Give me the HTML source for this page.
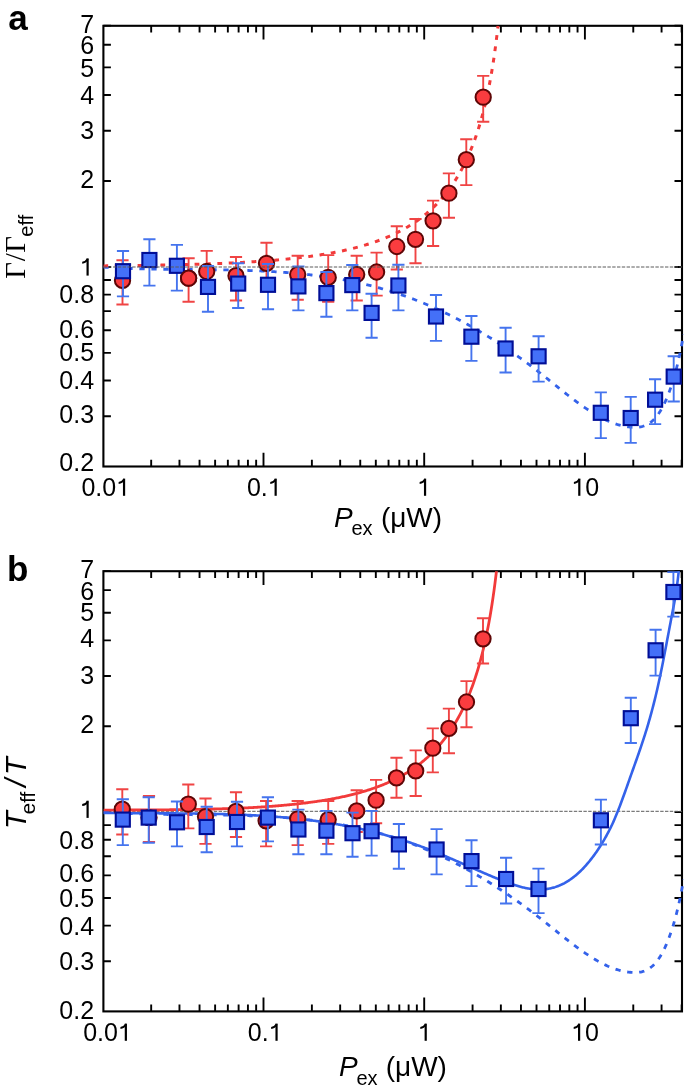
<!DOCTYPE html>
<html><head><meta charset="utf-8"><style>
html,body{margin:0;padding:0;background:#fff;}
body{width:685px;height:1091px;overflow:hidden;}
svg{display:block;will-change:transform;}
.tl{font-family:"Liberation Sans",sans-serif;font-size:25px;fill:#000;}
.pl{font-family:"Liberation Sans",sans-serif;font-size:35px;font-weight:bold;fill:#000;}
.ti{font-family:"Liberation Sans",sans-serif;font-size:28px;fill:#000;}
.ys{font-family:"Liberation Sans",sans-serif;fill:#000;}
</style></head><body>
<svg width="685" height="1091" viewBox="0 0 685 1091">
<defs><clipPath id="ca"><rect x="103.4" y="25.8" width="580.6" height="440.7"/></clipPath><clipPath id="cb"><rect x="103.4" y="571.2" width="580.6" height="440.2"/></clipPath></defs>
<rect width="685" height="1091" fill="#fff"/>
<path d="M151.18 466.5V459.7M151.18 25.8V32.6M179.47 466.5V459.7M179.47 25.8V32.6M199.55 466.5V459.7M199.55 25.8V32.6M215.12 466.5V459.7M215.12 25.8V32.6M227.85 466.5V459.7M227.85 25.8V32.6M238.61 466.5V459.7M238.61 25.8V32.6M247.93 466.5V459.7M247.93 25.8V32.6M256.15 466.5V459.7M256.15 25.8V32.6M263.5 466.5V452.7M263.5 25.8V39.6M311.88 466.5V459.7M311.88 25.8V32.6M340.17 466.5V459.7M340.17 25.8V32.6M360.25 466.5V459.7M360.25 25.8V32.6M375.82 466.5V459.7M375.82 25.8V32.6M388.55 466.5V459.7M388.55 25.8V32.6M399.31 466.5V459.7M399.31 25.8V32.6M408.63 466.5V459.7M408.63 25.8V32.6M416.85 466.5V459.7M416.85 25.8V32.6M424.2 466.5V452.7M424.2 25.8V39.6M472.58 466.5V459.7M472.58 25.8V32.6M500.87 466.5V459.7M500.87 25.8V32.6M520.95 466.5V459.7M520.95 25.8V32.6M536.52 466.5V459.7M536.52 25.8V32.6M549.25 466.5V459.7M549.25 25.8V32.6M560.01 466.5V459.7M560.01 25.8V32.6M569.33 466.5V459.7M569.33 25.8V32.6M577.55 466.5V459.7M577.55 25.8V32.6M584.9 466.5V452.7M584.9 25.8V39.6M633.28 466.5V459.7M633.28 25.8V32.6M661.57 466.5V459.7M661.57 25.8V32.6M681.65 466.5V459.7M681.65 25.8V32.6M103.4 25.67H110.9M682 25.67H674.5M103.4 44.79H110.9M682 44.79H674.5M103.4 67.39H110.9M682 67.39H674.5M103.4 95.06H110.9M682 95.06H674.5M103.4 130.73H110.9M682 130.73H674.5M103.4 181.01H110.9M682 181.01H674.5M103.4 266.95H110.9M682 266.95H674.5M103.4 280.01H110.9M682 280.01H674.5M103.4 294.62H110.9M682 294.62H674.5M103.4 311.17H110.9M682 311.17H674.5M103.4 330.29H110.9M682 330.29H674.5M103.4 352.89H110.9M682 352.89H674.5M103.4 380.56H110.9M682 380.56H674.5M103.4 416.23H110.9M682 416.23H674.5" stroke="#000" stroke-width="1.9" fill="none"/>
<rect x="103.4" y="25.8" width="578.6" height="440.7" stroke="#000" stroke-width="2.1" fill="none"/>
<g clip-path="url(#ca)">
<path d="M103.4 267.11 L104.56 267.19 L105.73 267.26 L106.89 267.33 L108.05 267.4 L109.21 267.47 L110.38 267.54 L111.54 267.6 L112.7 267.66 L113.86 267.73 L115.03 267.79 L116.19 267.85 L117.35 267.9 L118.52 267.96 L119.68 268.01 L120.84 268.07 L122 268.12 L123.17 268.17 L124.33 268.22 L125.49 268.26 L126.65 268.31 L127.82 268.35 L128.98 268.4 L130.14 268.44 L131.31 268.48 L132.47 268.52 L133.63 268.56 L134.79 268.6 L135.96 268.63 L137.12 268.67 L138.28 268.7 L139.44 268.74 L140.61 268.77 L141.77 268.8 L142.93 268.83 L144.1 268.86 L145.26 268.89 L146.42 268.92 L147.58 268.94 L148.75 268.97 L149.91 268.99 L151.07 269.02 L152.23 269.04 L153.4 269.06 L154.56 269.08 L155.72 269.1 L156.89 269.12 L158.05 269.14 L159.21 269.16 L160.37 269.18 L161.54 269.2 L162.7 269.22 L163.86 269.23 L165.02 269.25 L166.19 269.26 L167.35 269.28 L168.51 269.29 L169.68 269.31 L170.84 269.32 L172 269.33 L173.16 269.35 L174.33 269.36 L175.49 269.37 L176.65 269.38 L177.81 269.39 L178.98 269.4 L180.14 269.42 L181.3 269.43 L182.47 269.44 L183.63 269.45 L184.79 269.46 L185.95 269.47 L187.12 269.48 L188.28 269.49 L189.44 269.5 L190.6 269.51 L191.77 269.52 L192.93 269.53 L194.09 269.54 L195.26 269.55 L196.42 269.56 L197.58 269.57 L198.74 269.58 L199.91 269.59 L201.07 269.6 L202.23 269.61 L203.39 269.62 L204.56 269.64 L205.72 269.65 L206.88 269.66 L208.05 269.67 L209.21 269.69 L210.37 269.7 L211.53 269.71 L212.7 269.73 L213.86 269.74 L215.02 269.76 L216.18 269.77 L217.35 269.79 L218.51 269.81 L219.67 269.82 L220.84 269.84 L222 269.86 L223.16 269.88 L224.32 269.9 L225.49 269.92 L226.65 269.94 L227.81 269.96 L228.97 269.98 L230.14 270.01 L231.3 270.03 L232.46 270.06 L233.63 270.08 L234.79 270.11 L235.95 270.14 L237.11 270.16 L238.28 270.19 L239.44 270.22 L240.6 270.26 L241.76 270.29 L242.93 270.32 L244.09 270.36 L245.25 270.39 L246.42 270.43 L247.58 270.47 L248.74 270.51 L249.9 270.55 L251.07 270.59 L252.23 270.63 L253.39 270.67 L254.55 270.72 L255.72 270.77 L256.88 270.81 L258.04 270.86 L259.21 270.91 L260.37 270.97 L261.53 271.02 L262.69 271.07 L263.86 271.13 L265.02 271.19 L266.18 271.25 L267.34 271.31 L268.51 271.37 L269.67 271.43 L270.83 271.5 L272 271.57 L273.16 271.64 L274.32 271.71 L275.48 271.78 L276.65 271.85 L277.81 271.93 L278.97 272.01 L280.13 272.09 L281.3 272.17 L282.46 272.25 L283.62 272.33 L284.79 272.42 L285.95 272.51 L287.11 272.6 L288.27 272.69 L289.44 272.79 L290.6 272.88 L291.76 272.98 L292.92 273.08 L294.09 273.19 L295.25 273.29 L296.41 273.4 L297.58 273.51 L298.74 273.62 L299.9 273.73 L301.06 273.85 L302.23 273.96 L303.39 274.08 L304.55 274.21 L305.71 274.33 L306.88 274.46 L308.04 274.59 L309.2 274.72 L310.37 274.85 L311.53 274.99 L312.69 275.13 L313.85 275.27 L315.02 275.41 L316.18 275.56 L317.34 275.71 L318.5 275.86 L319.67 276.02 L320.83 276.17 L321.99 276.33 L323.16 276.5 L324.32 276.66 L325.48 276.83 L326.64 277 L327.81 277.17 L328.97 277.35 L330.13 277.53 L331.29 277.71 L332.46 277.89 L333.62 278.08 L334.78 278.27 L335.95 278.46 L337.11 278.66 L338.27 278.86 L339.43 279.06 L340.6 279.26 L341.76 279.47 L342.92 279.68 L344.08 279.9 L345.25 280.12 L346.41 280.34 L347.57 280.56 L348.74 280.79 L349.9 281.02 L351.06 281.25 L352.22 281.49 L353.39 281.73 L354.55 281.97 L355.71 282.22 L356.87 282.47 L358.04 282.72 L359.2 282.97 L360.36 283.23 L361.53 283.5 L362.69 283.77 L363.85 284.04 L365.01 284.31 L366.18 284.59 L367.34 284.87 L368.5 285.15 L369.66 285.44 L370.83 285.73 L371.99 286.03 L373.15 286.33 L374.32 286.63 L375.48 286.94 L376.64 287.25 L377.8 287.56 L378.97 287.88 L380.13 288.2 L381.29 288.53 L382.45 288.86 L383.62 289.19 L384.78 289.53 L385.94 289.87 L387.11 290.21 L388.27 290.56 L389.43 290.91 L390.59 291.27 L391.76 291.63 L392.92 292 L394.08 292.37 L395.24 292.74 L396.41 293.12 L397.57 293.5 L398.73 293.89 L399.89 294.28 L401.06 294.67 L402.22 295.07 L403.38 295.47 L404.55 295.88 L405.71 296.29 L406.87 296.71 L408.03 297.13 L409.2 297.55 L410.36 297.98 L411.52 298.42 L412.68 298.85 L413.85 299.3 L415.01 299.74 L416.17 300.19 L417.34 300.65 L418.5 301.11 L419.66 301.57 L420.82 302.04 L421.99 302.51 L423.15 302.99 L424.31 303.47 L425.47 303.96 L426.64 304.45 L427.8 304.94 L428.96 305.44 L430.13 305.94 L431.29 306.45 L432.45 306.96 L433.61 307.48 L434.78 308 L435.94 308.52 L437.1 309.05 L438.26 309.58 L439.43 310.12 L440.59 310.66 L441.75 311.21 L442.92 311.76 L444.08 312.31 L445.24 312.87 L446.4 313.44 L447.57 314.01 L448.73 314.58 L449.89 315.15 L451.05 315.73 L452.22 316.32 L453.38 316.91 L454.54 317.5 L455.71 318.1 L456.87 318.7 L458.03 319.31 L459.19 319.92 L460.36 320.54 L461.52 321.16 L462.68 321.78 L463.84 322.41 L465.01 323.04 L466.17 323.68 L467.33 324.32 L468.5 324.97 L469.66 325.62 L470.82 326.27 L471.98 326.93 L473.15 327.59 L474.31 328.26 L475.47 328.93 L476.63 329.61 L477.8 330.29 L478.96 330.97 L480.12 331.66 L481.29 332.35 L482.45 333.05 L483.61 333.75 L484.77 334.46 L485.94 335.17 L487.1 335.88 L488.26 336.6 L489.42 337.33 L490.59 338.05 L491.75 338.78 L492.91 339.52 L494.08 340.26 L495.24 341.01 L496.4 341.76 L497.56 342.51 L498.73 343.27 L499.89 344.03 L501.05 344.79 L502.21 345.57 L503.38 346.34 L504.54 347.12 L505.7 347.9 L506.87 348.69 L508.03 349.48 L509.19 350.28 L510.35 351.08 L511.52 351.88 L512.68 352.69 L513.84 353.51 L515 354.33 L516.17 355.15 L517.33 355.97 L518.49 356.8 L519.66 357.64 L520.82 358.48 L521.98 359.32 L523.14 360.17 L524.31 361.02 L525.47 361.88 L526.63 362.74 L527.79 363.6 L528.96 364.47 L530.12 365.35 L531.28 366.23 L532.45 367.11 L533.61 367.99 L534.77 368.88 L535.93 369.78 L537.1 370.68 L538.26 371.58 L539.42 372.49 L540.58 373.4 L541.75 374.32 L542.91 375.24 L544.07 376.16 L545.24 377.09 L546.4 378.02 L547.56 378.95 L548.72 379.88 L549.89 380.81 L551.05 381.75 L552.21 382.69 L553.37 383.62 L554.54 384.56 L555.7 385.49 L556.86 386.43 L558.03 387.36 L559.19 388.29 L560.35 389.22 L561.51 390.15 L562.68 391.08 L563.84 392 L565 392.92 L566.16 393.83 L567.33 394.74 L568.49 395.65 L569.65 396.55 L570.82 397.44 L571.98 398.33 L573.14 399.22 L574.3 400.09 L575.47 400.96 L576.63 401.83 L577.79 402.68 L578.95 403.53 L580.12 404.37 L581.28 405.2 L582.44 406.02 L583.61 406.83 L584.77 407.63 L585.93 408.42 L587.09 409.2 L588.26 409.97 L589.42 410.72 L590.58 411.47 L591.74 412.2 L592.91 412.92 L594.07 413.63 L595.23 414.33 L596.4 415.01 L597.56 415.67 L598.72 416.33 L599.88 416.96 L601.05 417.58 L602.21 418.19 L603.37 418.78 L604.53 419.36 L605.7 419.91 L606.86 420.45 L608.02 420.98 L609.19 421.48 L610.35 421.97 L611.51 422.43 L612.67 422.88 L613.84 423.31 L615 423.72 L616.16 424.11 L617.32 424.48 L618.49 424.83 L619.65 425.15 L620.81 425.46 L621.98 425.74 L623.14 426 L624.3 426.24 L625.46 426.45 L626.63 426.64 L627.79 426.81 L628.95 426.95 L630.11 427.07 L631.28 427.16 L632.44 427.23 L633.6 427.27 L634.77 427.28 L635.93 427.27 L637.09 427.22 L638.25 427.13 L639.42 426.99 L640.58 426.81 L641.74 426.57 L642.9 426.27 L644.07 425.9 L645.23 425.46 L646.39 424.95 L647.56 424.36 L648.72 423.67 L649.88 422.9 L651.04 422.03 L652.21 421.07 L653.37 419.99 L654.53 418.8 L655.69 417.5 L656.86 416.07 L658.02 414.52 L659.18 412.83 L660.35 411.01 L661.51 409.04 L662.67 406.93 L663.83 404.66 L665 402.24 L666.16 399.65 L667.32 396.9 L668.48 393.97 L669.65 390.86 L670.81 387.57 L671.97 384.09 L673.14 380.41 L674.3 376.5 L675.46 372.35 L676.62 367.91 L677.79 363.18 L678.95 358.12 L680.11 352.71 L681.27 346.93 L682.44 340.75 L683.6 334.15" stroke="#3462ea" stroke-width="2.8" fill="none" stroke-dasharray="5.3 6.7"/>
<path d="M103.4 265.89 L104.39 265.89 L105.39 265.88 L106.38 265.87 L107.38 265.86 L108.37 265.85 L109.36 265.84 L110.36 265.83 L111.35 265.82 L112.35 265.81 L113.34 265.8 L114.33 265.79 L115.33 265.78 L116.32 265.77 L117.32 265.76 L118.31 265.75 L119.3 265.74 L120.3 265.72 L121.29 265.71 L122.29 265.7 L123.28 265.69 L124.27 265.68 L125.27 265.67 L126.26 265.66 L127.26 265.64 L128.25 265.63 L129.24 265.62 L130.24 265.61 L131.23 265.59 L132.23 265.58 L133.22 265.57 L134.21 265.55 L135.21 265.54 L136.2 265.53 L137.2 265.51 L138.19 265.5 L139.18 265.49 L140.18 265.47 L141.17 265.46 L142.17 265.44 L143.16 265.43 L144.15 265.41 L145.15 265.4 L146.14 265.38 L147.14 265.37 L148.13 265.35 L149.12 265.33 L150.12 265.32 L151.11 265.3 L152.11 265.28 L153.1 265.27 L154.09 265.25 L155.09 265.23 L156.08 265.22 L157.08 265.2 L158.07 265.18 L159.06 265.16 L160.06 265.14 L161.05 265.12 L162.05 265.11 L163.04 265.09 L164.03 265.07 L165.03 265.05 L166.02 265.03 L167.02 265.01 L168.01 264.99 L169 264.97 L170 264.94 L170.99 264.92 L171.98 264.9 L172.98 264.88 L173.97 264.86 L174.97 264.84 L175.96 264.81 L176.95 264.79 L177.95 264.77 L178.94 264.74 L179.94 264.72 L180.93 264.69 L181.92 264.67 L182.92 264.65 L183.91 264.62 L184.91 264.59 L185.9 264.57 L186.89 264.54 L187.89 264.52 L188.88 264.49 L189.88 264.46 L190.87 264.43 L191.86 264.41 L192.86 264.38 L193.85 264.35 L194.85 264.32 L195.84 264.29 L196.83 264.26 L197.83 264.23 L198.82 264.2 L199.82 264.17 L200.81 264.14 L201.8 264.11 L202.8 264.08 L203.79 264.04 L204.79 264.01 L205.78 263.98 L206.77 263.94 L207.77 263.91 L208.76 263.87 L209.76 263.84 L210.75 263.8 L211.74 263.77 L212.74 263.73 L213.73 263.69 L214.73 263.66 L215.72 263.62 L216.71 263.58 L217.71 263.54 L218.7 263.5 L219.7 263.46 L220.69 263.42 L221.68 263.38 L222.68 263.34 L223.67 263.3 L224.67 263.25 L225.66 263.21 L226.65 263.17 L227.65 263.12 L228.64 263.08 L229.64 263.03 L230.63 262.98 L231.62 262.94 L232.62 262.89 L233.61 262.84 L234.61 262.79 L235.6 262.74 L236.59 262.69 L237.59 262.64 L238.58 262.59 L239.58 262.54 L240.57 262.49 L241.56 262.43 L242.56 262.38 L243.55 262.32 L244.55 262.27 L245.54 262.21 L246.53 262.16 L247.53 262.1 L248.52 262.04 L249.52 261.98 L250.51 261.92 L251.5 261.86 L252.5 261.8 L253.49 261.74 L254.49 261.67 L255.48 261.61 L256.47 261.54 L257.47 261.48 L258.46 261.41 L259.46 261.34 L260.45 261.27 L261.44 261.2 L262.44 261.13 L263.43 261.06 L264.43 260.99 L265.42 260.92 L266.41 260.84 L267.41 260.77 L268.4 260.69 L269.4 260.62 L270.39 260.54 L271.38 260.46 L272.38 260.38 L273.37 260.3 L274.37 260.21 L275.36 260.13 L276.35 260.04 L277.35 259.96 L278.34 259.87 L279.34 259.78 L280.33 259.69 L281.32 259.6 L282.32 259.51 L283.31 259.42 L284.31 259.32 L285.3 259.23 L286.29 259.13 L287.29 259.03 L288.28 258.93 L289.28 258.83 L290.27 258.73 L291.26 258.63 L292.26 258.52 L293.25 258.42 L294.25 258.31 L295.24 258.2 L296.23 258.09 L297.23 257.98 L298.22 257.86 L299.22 257.75 L300.21 257.63 L301.2 257.51 L302.2 257.39 L303.19 257.27 L304.18 257.14 L305.18 257.02 L306.17 256.89 L307.17 256.76 L308.16 256.63 L309.15 256.5 L310.15 256.37 L311.14 256.23 L312.14 256.09 L313.13 255.95 L314.12 255.81 L315.12 255.67 L316.11 255.52 L317.11 255.37 L318.1 255.22 L319.09 255.07 L320.09 254.92 L321.08 254.76 L322.08 254.6 L323.07 254.44 L324.06 254.28 L325.06 254.11 L326.05 253.95 L327.05 253.78 L328.04 253.6 L329.03 253.43 L330.03 253.25 L331.02 253.07 L332.02 252.89 L333.01 252.7 L334 252.52 L335 252.33 L335.99 252.13 L336.99 251.94 L337.98 251.74 L338.97 251.54 L339.97 251.33 L340.96 251.13 L341.96 250.92 L342.95 250.7 L343.94 250.49 L344.94 250.27 L345.93 250.05 L346.93 249.82 L347.92 249.59 L348.91 249.36 L349.91 249.12 L350.9 248.88 L351.9 248.64 L352.89 248.39 L353.88 248.14 L354.88 247.89 L355.87 247.63 L356.87 247.37 L357.86 247.11 L358.85 246.84 L359.85 246.56 L360.84 246.29 L361.84 246 L362.83 245.72 L363.82 245.43 L364.82 245.13 L365.81 244.84 L366.81 244.53 L367.8 244.22 L368.79 243.91 L369.79 243.59 L370.78 243.27 L371.78 242.94 L372.77 242.61 L373.76 242.28 L374.76 241.93 L375.75 241.58 L376.75 241.23 L377.74 240.87 L378.73 240.51 L379.73 240.14 L380.72 239.76 L381.72 239.38 L382.71 238.99 L383.7 238.6 L384.7 238.2 L385.69 237.79 L386.69 237.38 L387.68 236.96 L388.67 236.53 L389.67 236.1 L390.66 235.66 L391.66 235.21 L392.65 234.75 L393.64 234.29 L394.64 233.82 L395.63 233.34 L396.63 232.86 L397.62 232.36 L398.61 231.86 L399.61 231.35 L400.6 230.83 L401.6 230.3 L402.59 229.76 L403.58 229.22 L404.58 228.66 L405.57 228.1 L406.57 227.52 L407.56 226.94 L408.55 226.34 L409.55 225.73 L410.54 225.12 L411.54 224.49 L412.53 223.85 L413.52 223.2 L414.52 222.54 L415.51 221.87 L416.51 221.18 L417.5 220.48 L418.49 219.77 L419.49 219.05 L420.48 218.31 L421.48 217.56 L422.47 216.79 L423.46 216.01 L424.46 215.21 L425.45 214.4 L426.45 213.58 L427.44 212.73 L428.43 211.88 L429.43 211 L430.42 210.11 L431.42 209.2 L432.41 208.27 L433.4 207.32 L434.4 206.35 L435.39 205.36 L436.38 204.36 L437.38 203.33 L438.37 202.28 L439.37 201.2 L440.36 200.11 L441.35 198.99 L442.35 197.84 L443.34 196.67 L444.34 195.48 L445.33 194.26 L446.32 193.01 L447.32 191.73 L448.31 190.42 L449.31 189.08 L450.3 187.71 L451.29 186.31 L452.29 184.87 L453.28 183.4 L454.28 181.9 L455.27 180.35 L456.26 178.77 L457.26 177.14 L458.25 175.47 L459.25 173.76 L460.24 172 L461.23 170.2 L462.23 168.35 L463.22 166.44 L464.22 164.48 L465.21 162.47 L466.2 160.39 L467.2 158.26 L468.19 156.06 L469.19 153.79 L470.18 151.45 L471.17 149.04 L472.17 146.54 L473.16 143.97 L474.16 141.31 L475.15 138.56 L476.14 135.71 L477.14 132.75 L478.13 129.69 L479.13 126.51 L480.12 123.21 L481.11 119.77 L482.11 116.2 L483.1 112.47 L484.1 108.58 L485.09 104.52 L486.08 100.27 L487.08 95.81 L488.07 91.14 L489.07 86.22 L490.06 81.03 L491.05 75.56 L492.05 69.76 L493.04 63.61 L494.04 57.06 L495.03 50.07 L496.02 42.57 L497.02 34.49 L498.01 25.76" stroke="#f23a3a" stroke-width="3" fill="none" stroke-dasharray="4.8 6.6"/>
<path d="M122.5 260.3V304.5M116.4 260.3h12.2M116.4 304.5h12.2" stroke="#f04444" stroke-width="1.9" fill="none"/>
<path d="M188.6 258.3V301.8M182.5 258.3h12.2M182.5 301.8h12.2" stroke="#f04444" stroke-width="1.9" fill="none"/>
<path d="M206.7 250.9V294M200.6 250.9h12.2M200.6 294h12.2" stroke="#f04444" stroke-width="1.9" fill="none"/>
<path d="M236 257V300.5M229.9 257h12.2M229.9 300.5h12.2" stroke="#f04444" stroke-width="1.9" fill="none"/>
<path d="M266.5 242.7V285.5M260.4 242.7h12.2M260.4 285.5h12.2" stroke="#f04444" stroke-width="1.9" fill="none"/>
<path d="M297.7 255.8V299.8M291.6 255.8h12.2M291.6 299.8h12.2" stroke="#f04444" stroke-width="1.9" fill="none"/>
<path d="M328.2 255.1V301.8M322.1 255.1h12.2M322.1 301.8h12.2" stroke="#f04444" stroke-width="1.9" fill="none"/>
<path d="M356.7 255.8V300.5M350.6 255.8h12.2M350.6 300.5h12.2" stroke="#f04444" stroke-width="1.9" fill="none"/>
<path d="M376.6 252.6V295.6M370.5 252.6h12.2M370.5 295.6h12.2" stroke="#f04444" stroke-width="1.9" fill="none"/>
<path d="M396.8 226.3V269.5M390.7 226.3h12.2M390.7 269.5h12.2" stroke="#f04444" stroke-width="1.9" fill="none"/>
<path d="M415.5 219V263.3M409.4 219h12.2M409.4 263.3h12.2" stroke="#f04444" stroke-width="1.9" fill="none"/>
<path d="M433.1 200.6V246M427 200.6h12.2M427 246h12.2" stroke="#f04444" stroke-width="1.9" fill="none"/>
<path d="M448.9 173.4V217.8M442.8 173.4h12.2M442.8 217.8h12.2" stroke="#f04444" stroke-width="1.9" fill="none"/>
<path d="M466.3 139.3V185.1M460.2 139.3h12.2M460.2 185.1h12.2" stroke="#f04444" stroke-width="1.9" fill="none"/>
<path d="M483.2 75.9V121.7M477.1 75.9h12.2M477.1 121.7h12.2" stroke="#f04444" stroke-width="1.9" fill="none"/>
<circle cx="122.5" cy="280.4" r="7.65" fill="#fa3c3f" stroke="#5e0606" stroke-width="2.0"/>
<circle cx="188.6" cy="278.2" r="7.65" fill="#fa3c3f" stroke="#5e0606" stroke-width="2.0"/>
<circle cx="206.7" cy="271.5" r="7.65" fill="#fa3c3f" stroke="#5e0606" stroke-width="2.0"/>
<circle cx="236" cy="275.7" r="7.65" fill="#fa3c3f" stroke="#5e0606" stroke-width="2.0"/>
<circle cx="266.5" cy="263.3" r="7.65" fill="#fa3c3f" stroke="#5e0606" stroke-width="2.0"/>
<circle cx="297.7" cy="274.5" r="7.65" fill="#fa3c3f" stroke="#5e0606" stroke-width="2.0"/>
<circle cx="328.2" cy="277.4" r="7.65" fill="#fa3c3f" stroke="#5e0606" stroke-width="2.0"/>
<circle cx="356.7" cy="274.5" r="7.65" fill="#fa3c3f" stroke="#5e0606" stroke-width="2.0"/>
<circle cx="376.6" cy="272" r="7.65" fill="#fa3c3f" stroke="#5e0606" stroke-width="2.0"/>
<circle cx="396.8" cy="246.5" r="7.65" fill="#fa3c3f" stroke="#5e0606" stroke-width="2.0"/>
<circle cx="415.5" cy="239.3" r="7.65" fill="#fa3c3f" stroke="#5e0606" stroke-width="2.0"/>
<circle cx="433.1" cy="220.8" r="7.65" fill="#fa3c3f" stroke="#5e0606" stroke-width="2.0"/>
<circle cx="448.9" cy="193.2" r="7.65" fill="#fa3c3f" stroke="#5e0606" stroke-width="2.0"/>
<circle cx="466.3" cy="159.7" r="7.65" fill="#fa3c3f" stroke="#5e0606" stroke-width="2.0"/>
<circle cx="483.2" cy="97.2" r="7.65" fill="#fa3c3f" stroke="#5e0606" stroke-width="2.0"/>
<path d="M123 251V296.4M116.9 251h12.2M116.9 296.4h12.2" stroke="#4574ee" stroke-width="1.9" fill="none"/>
<path d="M149.4 239.2V285.6M143.3 239.2h12.2M143.3 285.6h12.2" stroke="#4574ee" stroke-width="1.9" fill="none"/>
<path d="M176.9 244.9V290.6M170.8 244.9h12.2M170.8 290.6h12.2" stroke="#4574ee" stroke-width="1.9" fill="none"/>
<path d="M208 266V311.7M201.9 266h12.2M201.9 311.7h12.2" stroke="#4574ee" stroke-width="1.9" fill="none"/>
<path d="M238.2 263.3V308M232.1 263.3h12.2M232.1 308h12.2" stroke="#4574ee" stroke-width="1.9" fill="none"/>
<path d="M268 264V309.2M261.9 264h12.2M261.9 309.2h12.2" stroke="#4574ee" stroke-width="1.9" fill="none"/>
<path d="M298.4 266.5V310.4M292.3 266.5h12.2M292.3 310.4h12.2" stroke="#4574ee" stroke-width="1.9" fill="none"/>
<path d="M326.4 272V316.7M320.3 272h12.2M320.3 316.7h12.2" stroke="#4574ee" stroke-width="1.9" fill="none"/>
<path d="M352.3 265V310.4M346.2 265h12.2M346.2 310.4h12.2" stroke="#4574ee" stroke-width="1.9" fill="none"/>
<path d="M371.6 293.8V337.8M365.5 293.8h12.2M365.5 337.8h12.2" stroke="#4574ee" stroke-width="1.9" fill="none"/>
<path d="M398.4 264.7V310.4M392.3 264.7h12.2M392.3 310.4h12.2" stroke="#4574ee" stroke-width="1.9" fill="none"/>
<path d="M436 295V340.9M429.9 295h12.2M429.9 340.9h12.2" stroke="#4574ee" stroke-width="1.9" fill="none"/>
<path d="M471.4 316V360.9M465.3 316h12.2M465.3 360.9h12.2" stroke="#4574ee" stroke-width="1.9" fill="none"/>
<path d="M505.6 327.8V372.5M499.5 327.8h12.2M499.5 372.5h12.2" stroke="#4574ee" stroke-width="1.9" fill="none"/>
<path d="M538.6 336.3V381.6M532.5 336.3h12.2M532.5 381.6h12.2" stroke="#4574ee" stroke-width="1.9" fill="none"/>
<path d="M600.8 392.4V438.1M594.7 392.4h12.2M594.7 438.1h12.2" stroke="#4574ee" stroke-width="1.9" fill="none"/>
<path d="M630.7 396.9V442.9M624.6 396.9h12.2M624.6 442.9h12.2" stroke="#4574ee" stroke-width="1.9" fill="none"/>
<path d="M655.1 379.3V424.1M649 379.3h12.2M649 424.1h12.2" stroke="#4574ee" stroke-width="1.9" fill="none"/>
<path d="M673.7 356.2V401.5M667.6 356.2h12.2M667.6 401.5h12.2" stroke="#4574ee" stroke-width="1.9" fill="none"/>
<rect x="115.95" y="264.15" width="14.1" height="14.1" fill="#4470f8" stroke="#000e96" stroke-width="2.1"/>
<rect x="142.35" y="252.95" width="14.1" height="14.1" fill="#4470f8" stroke="#000e96" stroke-width="2.1"/>
<rect x="169.85" y="258.75" width="14.1" height="14.1" fill="#4470f8" stroke="#000e96" stroke-width="2.1"/>
<rect x="200.95" y="279.85" width="14.1" height="14.1" fill="#4470f8" stroke="#000e96" stroke-width="2.1"/>
<rect x="231.15" y="276.55" width="14.1" height="14.1" fill="#4470f8" stroke="#000e96" stroke-width="2.1"/>
<rect x="260.95" y="277.75" width="14.1" height="14.1" fill="#4470f8" stroke="#000e96" stroke-width="2.1"/>
<rect x="291.35" y="279.35" width="14.1" height="14.1" fill="#4470f8" stroke="#000e96" stroke-width="2.1"/>
<rect x="319.35" y="286.05" width="14.1" height="14.1" fill="#4470f8" stroke="#000e96" stroke-width="2.1"/>
<rect x="345.25" y="278.05" width="14.1" height="14.1" fill="#4470f8" stroke="#000e96" stroke-width="2.1"/>
<rect x="364.55" y="305.85" width="14.1" height="14.1" fill="#4470f8" stroke="#000e96" stroke-width="2.1"/>
<rect x="391.35" y="278.45" width="14.1" height="14.1" fill="#4470f8" stroke="#000e96" stroke-width="2.1"/>
<rect x="428.95" y="309.45" width="14.1" height="14.1" fill="#4470f8" stroke="#000e96" stroke-width="2.1"/>
<rect x="464.35" y="329.65" width="14.1" height="14.1" fill="#4470f8" stroke="#000e96" stroke-width="2.1"/>
<rect x="498.55" y="341.45" width="14.1" height="14.1" fill="#4470f8" stroke="#000e96" stroke-width="2.1"/>
<rect x="531.55" y="349.25" width="14.1" height="14.1" fill="#4470f8" stroke="#000e96" stroke-width="2.1"/>
<rect x="593.75" y="405.75" width="14.1" height="14.1" fill="#4470f8" stroke="#000e96" stroke-width="2.1"/>
<rect x="623.65" y="410.95" width="14.1" height="14.1" fill="#4470f8" stroke="#000e96" stroke-width="2.1"/>
<rect x="648.05" y="392.65" width="14.1" height="14.1" fill="#4470f8" stroke="#000e96" stroke-width="2.1"/>
<rect x="666.65" y="369.55" width="14.1" height="14.1" fill="#4470f8" stroke="#000e96" stroke-width="2.1"/>
<circle cx="188.6" cy="278.2" r="7.65" fill="#fa3c3f" stroke="#5e0606" stroke-width="2.0"/>
<path d="M103.4 267H682" stroke="#5a5a5a" stroke-width="1.0" stroke-dasharray="3.4 1.4"/>
</g>
<text x="80.2" y="32.6" class="tl">7</text>
<text x="80.2" y="53.55" class="tl">6</text>
<text x="80.2" y="77.05" class="tl">5</text>
<text x="80.2" y="103.7" class="tl">4</text>
<text x="80.2" y="138.55" class="tl">3</text>
<text x="80.2" y="188" class="tl">2</text>
<path d="M87.6 275.6V258.4" stroke="#000" stroke-width="2.2" fill="none"/><path d="M87.8 259.1Q85.6 262.7 82.2 262.8" stroke="#000" stroke-width="2" fill="none"/>
<text x="59.35" y="302.95" class="tl">0</text><text x="73.25" y="302.95" class="tl">.</text><text x="80.2" y="302.95" class="tl">8</text>
<text x="59.35" y="337.5" class="tl">0</text><text x="73.25" y="337.5" class="tl">.</text><text x="80.2" y="337.5" class="tl">6</text>
<text x="59.35" y="360.8" class="tl">0</text><text x="73.25" y="360.8" class="tl">.</text><text x="80.2" y="360.8" class="tl">5</text>
<text x="59.35" y="389.4" class="tl">0</text><text x="73.25" y="389.4" class="tl">.</text><text x="80.2" y="389.4" class="tl">4</text>
<text x="59.35" y="423.1" class="tl">0</text><text x="73.25" y="423.1" class="tl">.</text><text x="80.2" y="423.1" class="tl">3</text>
<text x="59.35" y="471.05" class="tl">0</text><text x="73.25" y="471.05" class="tl">.</text><text x="80.2" y="471.05" class="tl">2</text>
<text x="81.4" y="495.8" class="tl">0</text><text x="95.3" y="495.8" class="tl">.</text><text x="102.25" y="495.8" class="tl">0</text><path d="M124.05 495.8V478.6" stroke="#000" stroke-width="2.2" fill="none"/><path d="M124.25 479.3Q122.05 482.9 118.65 483" stroke="#000" stroke-width="2" fill="none"/>
<text x="246.9" y="495.8" class="tl">0</text><text x="260.8" y="495.8" class="tl">.</text><path d="M275.65 495.8V478.6" stroke="#000" stroke-width="2.2" fill="none"/><path d="M275.85 479.3Q273.65 482.9 270.25 483" stroke="#000" stroke-width="2" fill="none"/>
<path d="M425.05 495.8V478.6" stroke="#000" stroke-width="2.2" fill="none"/><path d="M425.25 479.3Q423.05 482.9 419.65 483" stroke="#000" stroke-width="2" fill="none"/>
<path d="M579.3 495.8V478.6" stroke="#000" stroke-width="2.2" fill="none"/><path d="M579.5 479.3Q577.3 482.9 573.9 483" stroke="#000" stroke-width="2" fill="none"/><text x="585.3" y="495.8" class="tl">0</text>
<path d="M151.18 1011.4V1004.6M151.18 571.2V578M179.47 1011.4V1004.6M179.47 571.2V578M199.55 1011.4V1004.6M199.55 571.2V578M215.12 1011.4V1004.6M215.12 571.2V578M227.85 1011.4V1004.6M227.85 571.2V578M238.61 1011.4V1004.6M238.61 571.2V578M247.93 1011.4V1004.6M247.93 571.2V578M256.15 1011.4V1004.6M256.15 571.2V578M263.5 1011.4V997.6M263.5 571.2V585M311.88 1011.4V1004.6M311.88 571.2V578M340.17 1011.4V1004.6M340.17 571.2V578M360.25 1011.4V1004.6M360.25 571.2V578M375.82 1011.4V1004.6M375.82 571.2V578M388.55 1011.4V1004.6M388.55 571.2V578M399.31 1011.4V1004.6M399.31 571.2V578M408.63 1011.4V1004.6M408.63 571.2V578M416.85 1011.4V1004.6M416.85 571.2V578M424.2 1011.4V997.6M424.2 571.2V585M472.58 1011.4V1004.6M472.58 571.2V578M500.87 1011.4V1004.6M500.87 571.2V578M520.95 1011.4V1004.6M520.95 571.2V578M536.52 1011.4V1004.6M536.52 571.2V578M549.25 1011.4V1004.6M549.25 571.2V578M560.01 1011.4V1004.6M560.01 571.2V578M569.33 1011.4V1004.6M569.33 571.2V578M577.55 1011.4V1004.6M577.55 571.2V578M584.9 1011.4V997.6M584.9 571.2V585M633.28 1011.4V1004.6M633.28 571.2V578M661.57 1011.4V1004.6M661.57 571.2V578M681.65 1011.4V1004.6M681.65 571.2V578M103.4 571.08H110.9M682 571.08H674.5M103.4 590.17H110.9M682 590.17H674.5M103.4 612.75H110.9M682 612.75H674.5M103.4 640.39H110.9M682 640.39H674.5M103.4 676.03H110.9M682 676.03H674.5M103.4 726.25H110.9M682 726.25H674.5M103.4 812.1H110.9M682 812.1H674.5M103.4 825.15H110.9M682 825.15H674.5M103.4 839.74H110.9M682 839.74H674.5M103.4 856.28H110.9M682 856.28H674.5M103.4 875.37H110.9M682 875.37H674.5M103.4 897.95H110.9M682 897.95H674.5M103.4 925.59H110.9M682 925.59H674.5M103.4 961.23H110.9M682 961.23H674.5" stroke="#000" stroke-width="1.9" fill="none"/>
<rect x="103.4" y="571.2" width="578.6" height="440.2" stroke="#000" stroke-width="2.1" fill="none"/>
<g clip-path="url(#cb)">
<path d="M103.4 811.3H682" stroke="#5a5a5a" stroke-width="1.0" stroke-dasharray="3.4 1.4"/>
<path d="M103.4 812.31 L104.56 812.39 L105.73 812.46 L106.89 812.53 L108.05 812.6 L109.21 812.67 L110.38 812.74 L111.54 812.8 L112.7 812.86 L113.86 812.93 L115.03 812.99 L116.19 813.05 L117.35 813.1 L118.52 813.16 L119.68 813.21 L120.84 813.27 L122 813.32 L123.17 813.37 L124.33 813.42 L125.49 813.46 L126.65 813.51 L127.82 813.55 L128.98 813.6 L130.14 813.64 L131.31 813.68 L132.47 813.72 L133.63 813.76 L134.79 813.8 L135.96 813.83 L137.12 813.87 L138.28 813.9 L139.44 813.94 L140.61 813.97 L141.77 814 L142.93 814.03 L144.1 814.06 L145.26 814.09 L146.42 814.12 L147.58 814.14 L148.75 814.17 L149.91 814.19 L151.07 814.22 L152.23 814.24 L153.4 814.26 L154.56 814.28 L155.72 814.3 L156.89 814.32 L158.05 814.34 L159.21 814.36 L160.37 814.38 L161.54 814.4 L162.7 814.42 L163.86 814.43 L165.02 814.45 L166.19 814.46 L167.35 814.48 L168.51 814.49 L169.68 814.51 L170.84 814.52 L172 814.53 L173.16 814.55 L174.33 814.56 L175.49 814.57 L176.65 814.58 L177.81 814.59 L178.98 814.6 L180.14 814.62 L181.3 814.63 L182.47 814.64 L183.63 814.65 L184.79 814.66 L185.95 814.67 L187.12 814.68 L188.28 814.69 L189.44 814.7 L190.6 814.71 L191.77 814.72 L192.93 814.73 L194.09 814.74 L195.26 814.75 L196.42 814.76 L197.58 814.77 L198.74 814.78 L199.91 814.79 L201.07 814.8 L202.23 814.81 L203.39 814.82 L204.56 814.84 L205.72 814.85 L206.88 814.86 L208.05 814.87 L209.21 814.89 L210.37 814.9 L211.53 814.91 L212.7 814.93 L213.86 814.94 L215.02 814.96 L216.18 814.97 L217.35 814.99 L218.51 815.01 L219.67 815.02 L220.84 815.04 L222 815.06 L223.16 815.08 L224.32 815.1 L225.49 815.12 L226.65 815.14 L227.81 815.16 L228.97 815.18 L230.14 815.21 L231.3 815.23 L232.46 815.26 L233.63 815.28 L234.79 815.31 L235.95 815.34 L237.11 815.36 L238.28 815.39 L239.44 815.42 L240.6 815.46 L241.76 815.49 L242.93 815.52 L244.09 815.56 L245.25 815.59 L246.42 815.63 L247.58 815.67 L248.74 815.71 L249.9 815.75 L251.07 815.79 L252.23 815.83 L253.39 815.87 L254.55 815.92 L255.72 815.97 L256.88 816.01 L258.04 816.06 L259.21 816.11 L260.37 816.17 L261.53 816.22 L262.69 816.27 L263.86 816.33 L265.02 816.39 L266.18 816.45 L267.34 816.51 L268.51 816.57 L269.67 816.63 L270.83 816.7 L272 816.77 L273.16 816.84 L274.32 816.91 L275.48 816.98 L276.65 817.05 L277.81 817.13 L278.97 817.21 L280.13 817.29 L281.3 817.37 L282.46 817.45 L283.62 817.53 L284.79 817.62 L285.95 817.71 L287.11 817.8 L288.27 817.89 L289.44 817.99 L290.6 818.08 L291.76 818.18 L292.92 818.28 L294.09 818.39 L295.25 818.49 L296.41 818.6 L297.58 818.71 L298.74 818.82 L299.9 818.93 L301.06 819.05 L302.23 819.16 L303.39 819.28 L304.55 819.41 L305.71 819.53 L306.88 819.66 L308.04 819.79 L309.2 819.92 L310.37 820.05 L311.53 820.19 L312.69 820.33 L313.85 820.47 L315.02 820.61 L316.18 820.76 L317.34 820.91 L318.5 821.06 L319.67 821.22 L320.83 821.37 L321.99 821.53 L323.16 821.7 L324.32 821.86 L325.48 822.03 L326.64 822.2 L327.81 822.37 L328.97 822.55 L330.13 822.73 L331.29 822.91 L332.46 823.09 L333.62 823.28 L334.78 823.47 L335.95 823.66 L337.11 823.86 L338.27 824.06 L339.43 824.26 L340.6 824.46 L341.76 824.67 L342.92 824.88 L344.08 825.1 L345.25 825.32 L346.41 825.54 L347.57 825.76 L348.74 825.99 L349.9 826.22 L351.06 826.45 L352.22 826.69 L353.39 826.93 L354.55 827.17 L355.71 827.42 L356.87 827.67 L358.04 827.92 L359.2 828.17 L360.36 828.43 L361.53 828.7 L362.69 828.97 L363.85 829.24 L365.01 829.51 L366.18 829.79 L367.34 830.07 L368.5 830.35 L369.66 830.64 L370.83 830.93 L371.99 831.23 L373.15 831.53 L374.32 831.83 L375.48 832.14 L376.64 832.45 L377.8 832.76 L378.97 833.08 L380.13 833.4 L381.29 833.73 L382.45 834.06 L383.62 834.39 L384.78 834.73 L385.94 835.07 L387.11 835.41 L388.27 835.76 L389.43 836.11 L390.59 836.47 L391.76 836.83 L392.92 837.2 L394.08 837.57 L395.24 837.94 L396.41 838.32 L397.57 838.7 L398.73 839.09 L399.89 839.48 L401.06 839.87 L402.22 840.27 L403.38 840.67 L404.55 841.08 L405.71 841.49 L406.87 841.91 L408.03 842.33 L409.2 842.75 L410.36 843.18 L411.52 843.62 L412.68 844.05 L413.85 844.5 L415.01 844.94 L416.17 845.39 L417.34 845.85 L418.5 846.31 L419.66 846.77 L420.82 847.24 L421.99 847.71 L423.15 848.19 L424.31 848.67 L425.47 849.16 L426.64 849.65 L427.8 850.14 L428.96 850.64 L430.13 851.14 L431.29 851.65 L432.45 852.16 L433.61 852.68 L434.78 853.2 L435.94 853.72 L437.1 854.25 L438.26 854.78 L439.43 855.32 L440.59 855.86 L441.75 856.41 L442.92 856.96 L444.08 857.51 L445.24 858.07 L446.4 858.64 L447.57 859.21 L448.73 859.78 L449.89 860.35 L451.05 860.93 L452.22 861.52 L453.38 862.11 L454.54 862.7 L455.71 863.3 L456.87 863.9 L458.03 864.51 L459.19 865.12 L460.36 865.74 L461.52 866.36 L462.68 866.98 L463.84 867.61 L465.01 868.24 L466.17 868.88 L467.33 869.52 L468.5 870.17 L469.66 870.82 L470.82 871.47 L471.98 872.13 L473.15 872.79 L474.31 873.46 L475.47 874.13 L476.63 874.81 L477.8 875.49 L478.96 876.17 L480.12 876.86 L481.29 877.55 L482.45 878.25 L483.61 878.95 L484.77 879.66 L485.94 880.37 L487.1 881.08 L488.26 881.8 L489.42 882.53 L490.59 883.25 L491.75 883.98 L492.91 884.72 L494.08 885.46 L495.24 886.21 L496.4 886.96 L497.56 887.71 L498.73 888.47 L499.89 889.23 L501.05 889.99 L502.21 890.77 L503.38 891.54 L504.54 892.32 L505.7 893.1 L506.87 893.89 L508.03 894.68 L509.19 895.48 L510.35 896.28 L511.52 897.08 L512.68 897.89 L513.84 898.71 L515 899.53 L516.17 900.35 L517.33 901.17 L518.49 902 L519.66 902.84 L520.82 903.68 L521.98 904.52 L523.14 905.37 L524.31 906.22 L525.47 907.08 L526.63 907.94 L527.79 908.8 L528.96 909.67 L530.12 910.55 L531.28 911.43 L532.45 912.31 L533.61 913.19 L534.77 914.08 L535.93 914.98 L537.1 915.88 L538.26 916.78 L539.42 917.69 L540.58 918.6 L541.75 919.52 L542.91 920.44 L544.07 921.36 L545.24 922.29 L546.4 923.22 L547.56 924.15 L548.72 925.08 L549.89 926.01 L551.05 926.95 L552.21 927.89 L553.37 928.82 L554.54 929.76 L555.7 930.69 L556.86 931.63 L558.03 932.56 L559.19 933.49 L560.35 934.42 L561.51 935.35 L562.68 936.28 L563.84 937.2 L565 938.12 L566.16 939.03 L567.33 939.94 L568.49 940.85 L569.65 941.75 L570.82 942.64 L571.98 943.53 L573.14 944.42 L574.3 945.29 L575.47 946.16 L576.63 947.03 L577.79 947.88 L578.95 948.73 L580.12 949.57 L581.28 950.4 L582.44 951.22 L583.61 952.03 L584.77 952.83 L585.93 953.62 L587.09 954.4 L588.26 955.17 L589.42 955.92 L590.58 956.67 L591.74 957.4 L592.91 958.12 L594.07 958.83 L595.23 959.53 L596.4 960.21 L597.56 960.87 L598.72 961.53 L599.88 962.16 L601.05 962.78 L602.21 963.39 L603.37 963.98 L604.53 964.56 L605.7 965.11 L606.86 965.65 L608.02 966.18 L609.19 966.68 L610.35 967.17 L611.51 967.63 L612.67 968.08 L613.84 968.51 L615 968.92 L616.16 969.31 L617.32 969.68 L618.49 970.03 L619.65 970.35 L620.81 970.66 L621.98 970.94 L623.14 971.2 L624.3 971.44 L625.46 971.65 L626.63 971.84 L627.79 972.01 L628.95 972.15 L630.11 972.27 L631.28 972.36 L632.44 972.43 L633.6 972.47 L634.77 972.48 L635.93 972.47 L637.09 972.42 L638.25 972.33 L639.42 972.19 L640.58 972.01 L641.74 971.77 L642.9 971.47 L644.07 971.1 L645.23 970.66 L646.39 970.15 L647.56 969.56 L648.72 968.87 L649.88 968.1 L651.04 967.23 L652.21 966.27 L653.37 965.19 L654.53 964 L655.69 962.7 L656.86 961.27 L658.02 959.72 L659.18 958.03 L660.35 956.21 L661.51 954.24 L662.67 952.13 L663.83 949.86 L665 947.44 L666.16 944.85 L667.32 942.1 L668.48 939.17 L669.65 936.06 L670.81 932.77 L671.97 929.29 L673.14 925.61 L674.3 921.7 L675.46 917.55 L676.62 913.11 L677.79 908.38 L678.95 903.32 L680.11 897.91 L681.27 892.13 L682.44 885.95 L683.6 879.35" stroke="#3462ea" stroke-width="2.8" fill="none" stroke-dasharray="5.3 6.7"/>
<path d="M103.4 810.05 L104.39 810.05 L105.39 810.05 L106.38 810.05 L107.38 810.05 L108.37 810.05 L109.36 810.05 L110.36 810.05 L111.35 810.05 L112.35 810.05 L113.34 810.05 L114.33 810.05 L115.33 810.05 L116.32 810.05 L117.32 810.05 L118.31 810.05 L119.3 810.05 L120.3 810.04 L121.29 810.04 L122.29 810.04 L123.28 810.04 L124.27 810.04 L125.27 810.04 L126.26 810.03 L127.26 810.03 L128.25 810.03 L129.24 810.03 L130.24 810.02 L131.23 810.02 L132.23 810.02 L133.22 810.01 L134.21 810.01 L135.21 810.01 L136.2 810 L137.2 810 L138.19 810 L139.18 809.99 L140.18 809.99 L141.17 809.98 L142.17 809.98 L143.16 809.97 L144.15 809.97 L145.15 809.96 L146.14 809.96 L147.14 809.95 L148.13 809.95 L149.12 809.94 L150.12 809.94 L151.11 809.93 L152.11 809.92 L153.1 809.92 L154.09 809.91 L155.09 809.9 L156.08 809.9 L157.08 809.89 L158.07 809.88 L159.06 809.87 L160.06 809.86 L161.05 809.86 L162.05 809.85 L163.04 809.84 L164.03 809.83 L165.03 809.82 L166.02 809.81 L167.02 809.8 L168.01 809.79 L169 809.78 L170 809.77 L170.99 809.76 L171.98 809.75 L172.98 809.74 L173.97 809.73 L174.97 809.72 L175.96 809.7 L176.95 809.69 L177.95 809.68 L178.94 809.67 L179.94 809.65 L180.93 809.64 L181.92 809.63 L182.92 809.61 L183.91 809.6 L184.91 809.58 L185.9 809.57 L186.89 809.55 L187.89 809.54 L188.88 809.52 L189.88 809.5 L190.87 809.49 L191.86 809.47 L192.86 809.45 L193.85 809.44 L194.85 809.42 L195.84 809.4 L196.83 809.38 L197.83 809.36 L198.82 809.34 L199.82 809.32 L200.81 809.3 L201.8 809.28 L202.8 809.26 L203.79 809.24 L204.79 809.22 L205.78 809.2 L206.77 809.17 L207.77 809.15 L208.76 809.13 L209.76 809.1 L210.75 809.08 L211.74 809.05 L212.74 809.03 L213.73 809 L214.73 808.98 L215.72 808.95 L216.71 808.92 L217.71 808.9 L218.7 808.87 L219.7 808.84 L220.69 808.81 L221.68 808.78 L222.68 808.75 L223.67 808.72 L224.67 808.69 L225.66 808.66 L226.65 808.62 L227.65 808.59 L228.64 808.56 L229.64 808.52 L230.63 808.49 L231.62 808.45 L232.62 808.42 L233.61 808.38 L234.61 808.35 L235.6 808.31 L236.59 808.27 L237.59 808.23 L238.58 808.19 L239.58 808.15 L240.57 808.11 L241.56 808.07 L242.56 808.03 L243.55 807.98 L244.55 807.94 L245.54 807.89 L246.53 807.85 L247.53 807.8 L248.52 807.76 L249.52 807.71 L250.51 807.66 L251.5 807.61 L252.5 807.56 L253.49 807.51 L254.49 807.45 L255.48 807.39 L256.47 807.33 L257.47 807.27 L258.46 807.21 L259.46 807.14 L260.45 807.08 L261.44 807.01 L262.44 806.95 L263.43 806.88 L264.43 806.81 L265.42 806.74 L266.41 806.67 L267.41 806.6 L268.4 806.53 L269.4 806.45 L270.39 806.38 L271.38 806.3 L272.38 806.23 L273.37 806.15 L274.37 806.07 L275.36 805.99 L276.35 805.91 L277.35 805.83 L278.34 805.75 L279.34 805.66 L280.33 805.58 L281.32 805.49 L282.32 805.4 L283.31 805.31 L284.31 805.22 L285.3 805.13 L286.29 805.04 L287.29 804.94 L288.28 804.85 L289.28 804.75 L290.27 804.65 L291.26 804.55 L292.26 804.45 L293.25 804.35 L294.25 804.24 L295.24 804.14 L296.23 804.03 L297.23 803.92 L298.22 803.81 L299.22 803.7 L300.21 803.58 L301.2 803.47 L302.2 803.35 L303.19 803.23 L304.18 803.11 L305.18 802.99 L306.17 802.87 L307.17 802.74 L308.16 802.61 L309.15 802.48 L310.15 802.35 L311.14 802.22 L312.14 802.09 L313.13 801.95 L314.12 801.81 L315.12 801.67 L316.11 801.52 L317.11 801.38 L318.1 801.23 L319.09 801.08 L320.09 800.93 L321.08 800.78 L322.08 800.62 L323.07 800.46 L324.06 800.3 L325.06 800.14 L326.05 799.97 L327.05 799.8 L328.04 799.63 L329.03 799.46 L330.03 799.28 L331.02 799.1 L332.02 798.92 L333.01 798.74 L334 798.55 L335 798.36 L335.99 798.17 L336.99 797.98 L337.98 797.78 L338.97 797.58 L339.97 797.37 L340.96 797.17 L341.96 796.96 L342.95 796.74 L343.94 796.53 L344.94 796.31 L345.93 796.08 L346.93 795.86 L347.92 795.62 L348.91 795.39 L349.91 795.15 L350.9 794.91 L351.9 794.67 L352.89 794.42 L353.88 794.17 L354.88 793.91 L355.87 793.65 L356.87 793.39 L357.86 793.12 L358.85 792.85 L359.85 792.57 L360.84 792.29 L361.84 792 L362.83 791.71 L363.82 791.42 L364.82 791.12 L365.81 790.82 L366.81 790.51 L367.8 790.19 L368.79 789.88 L369.79 789.55 L370.78 789.22 L371.78 788.89 L372.77 788.55 L373.76 788.2 L374.76 787.85 L375.75 787.5 L376.75 787.14 L377.74 786.77 L378.73 786.39 L379.73 786.01 L380.72 785.63 L381.72 785.24 L382.71 784.84 L383.7 784.43 L384.7 784.02 L385.69 783.6 L386.69 783.17 L387.68 782.74 L388.67 782.3 L389.67 781.85 L390.66 781.4 L391.66 780.94 L392.65 780.46 L393.64 779.99 L394.64 779.5 L395.63 779 L396.63 778.5 L397.62 777.99 L398.61 777.46 L399.61 776.93 L400.6 776.39 L401.6 775.84 L402.59 775.29 L403.58 774.72 L404.58 774.14 L405.57 773.55 L406.57 772.95 L407.56 772.34 L408.55 771.71 L409.55 771.08 L410.54 770.44 L411.54 769.78 L412.53 769.11 L413.52 768.43 L414.52 767.74 L415.51 767.03 L416.51 766.31 L417.5 765.58 L418.49 764.83 L419.49 764.07 L420.48 763.29 L421.48 762.5 L422.47 761.7 L423.46 760.87 L424.46 760.04 L425.45 759.18 L426.45 758.31 L427.44 757.42 L428.43 756.51 L429.43 755.59 L430.42 754.64 L431.42 753.68 L432.41 752.7 L433.4 751.69 L434.4 750.67 L435.39 749.62 L436.38 748.55 L437.38 747.46 L438.37 746.35 L439.37 745.21 L440.36 744.04 L441.35 742.85 L442.35 741.64 L443.34 740.39 L444.34 739.12 L445.33 737.82 L446.32 736.49 L447.32 735.13 L448.31 733.73 L449.31 732.3 L450.3 730.84 L451.29 729.34 L452.29 727.81 L453.28 726.24 L454.28 724.63 L455.27 722.97 L456.26 721.28 L457.26 719.54 L458.25 717.75 L459.25 715.92 L460.24 714.04 L461.23 712.1 L462.23 710.11 L463.22 708.07 L464.22 705.97 L465.21 703.8 L466.2 701.58 L467.2 699.28 L468.19 696.92 L469.19 694.48 L470.18 691.96 L471.17 689.37 L472.17 686.69 L473.16 683.92 L474.16 681.05 L475.15 678.09 L476.14 675.02 L477.14 671.84 L478.13 668.54 L479.13 665.12 L480.12 661.56 L481.11 657.86 L482.11 654.01 L483.1 649.99 L484.1 645.81 L485.09 641.43 L486.08 636.85 L487.08 632.05 L488.07 627.01 L489.07 621.72 L490.06 616.14 L491.05 610.25 L492.05 604.02 L493.04 597.41 L494.04 590.38 L495.03 582.88 L496.02 574.85 L497.02 566.21" stroke="#f23a3a" stroke-width="2.8" fill="none"/>
<path d="M103.4 812.83 L104.22 812.84 L105.05 812.86 L105.87 812.87 L106.7 812.89 L107.52 812.9 L108.35 812.91 L109.17 812.93 L109.99 812.94 L110.82 812.95 L111.64 812.97 L112.47 812.98 L113.29 812.99 L114.11 813 L114.94 813.01 L115.76 813.02 L116.59 813.03 L117.41 813.04 L118.24 813.05 L119.06 813.06 L119.88 813.07 L120.71 813.08 L121.53 813.09 L122.36 813.1 L123.18 813.11 L124 813.12 L124.83 813.13 L125.65 813.13 L126.48 813.14 L127.3 813.15 L128.13 813.16 L128.95 813.16 L129.77 813.17 L130.6 813.18 L131.42 813.18 L132.25 813.19 L133.07 813.19 L133.89 813.2 L134.72 813.21 L135.54 813.21 L136.37 813.22 L137.19 813.22 L138.02 813.23 L138.84 813.23 L139.66 813.24 L140.49 813.24 L141.31 813.25 L142.14 813.25 L142.96 813.25 L143.78 813.26 L144.61 813.26 L145.43 813.27 L146.26 813.27 L147.08 813.27 L147.91 813.28 L148.73 813.28 L149.55 813.29 L150.38 813.29 L151.2 813.29 L152.03 813.3 L152.85 813.3 L153.67 813.3 L154.5 813.31 L155.32 813.31 L156.15 813.31 L156.97 813.32 L157.8 813.32 L158.62 813.32 L159.44 813.33 L160.27 813.33 L161.09 813.34 L161.92 813.34 L162.74 813.34 L163.56 813.35 L164.39 813.35 L165.21 813.35 L166.04 813.36 L166.86 813.36 L167.69 813.37 L168.51 813.37 L169.33 813.37 L170.16 813.38 L170.98 813.38 L171.81 813.39 L172.63 813.39 L173.46 813.4 L174.28 813.4 L175.1 813.4 L175.93 813.41 L176.75 813.42 L177.58 813.42 L178.4 813.43 L179.22 813.43 L180.05 813.44 L180.87 813.44 L181.7 813.45 L182.52 813.46 L183.35 813.46 L184.17 813.47 L184.99 813.47 L185.82 813.48 L186.64 813.49 L187.47 813.5 L188.29 813.5 L189.11 813.51 L189.94 813.52 L190.76 813.53 L191.59 813.54 L192.41 813.55 L193.24 813.55 L194.06 813.56 L194.88 813.57 L195.71 813.58 L196.53 813.59 L197.36 813.6 L198.18 813.61 L199 813.63 L199.83 813.64 L200.65 813.65 L201.48 813.66 L202.3 813.67 L203.13 813.68 L203.95 813.7 L204.77 813.71 L205.6 813.72 L206.42 813.74 L207.25 813.75 L208.07 813.77 L208.89 813.78 L209.72 813.8 L210.54 813.81 L211.37 813.83 L212.19 813.85 L213.02 813.86 L213.84 813.88 L214.66 813.9 L215.49 813.92 L216.31 813.93 L217.14 813.95 L217.96 813.97 L218.78 813.99 L219.61 814.01 L220.43 814.03 L221.26 814.05 L222.08 814.07 L222.91 814.1 L223.73 814.12 L224.55 814.14 L225.38 814.17 L226.2 814.19 L227.03 814.21 L227.85 814.24 L228.67 814.26 L229.5 814.29 L230.32 814.32 L231.15 814.34 L231.97 814.37 L232.8 814.4 L233.62 814.43 L234.44 814.46 L235.27 814.49 L236.09 814.52 L236.92 814.55 L237.74 814.58 L238.57 814.61 L239.39 814.64 L240.21 814.68 L241.04 814.71 L241.86 814.74 L242.69 814.78 L243.51 814.81 L244.33 814.85 L245.16 814.89 L245.98 814.92 L246.81 814.96 L247.63 815 L248.46 815.04 L249.28 815.08 L250.1 815.12 L250.93 815.16 L251.75 815.2 L252.58 815.25 L253.4 815.29 L254.22 815.33 L255.05 815.38 L255.87 815.42 L256.7 815.47 L257.52 815.52 L258.35 815.56 L259.17 815.61 L259.99 815.66 L260.82 815.71 L261.64 815.76 L262.47 815.81 L263.29 815.86 L264.11 815.91 L264.94 815.97 L265.76 816.02 L266.59 816.08 L267.41 816.13 L268.24 816.19 L269.06 816.25 L269.88 816.3 L270.71 816.36 L271.53 816.42 L272.36 816.48 L273.18 816.54 L274 816.61 L274.83 816.67 L275.65 816.73 L276.48 816.8 L277.3 816.86 L278.13 816.93 L278.95 817 L279.77 817.06 L280.6 817.13 L281.42 817.2 L282.25 817.27 L283.07 817.34 L283.89 817.42 L284.72 817.49 L285.54 817.56 L286.37 817.64 L287.19 817.72 L288.02 817.79 L288.84 817.87 L289.66 817.95 L290.49 818.03 L291.31 818.11 L292.14 818.19 L292.96 818.27 L293.78 818.36 L294.61 818.44 L295.43 818.53 L296.26 818.61 L297.08 818.7 L297.91 818.79 L298.73 818.88 L299.55 818.97 L300.38 819.06 L301.2 819.15 L302.03 819.25 L302.85 819.34 L303.68 819.44 L304.5 819.53 L305.32 819.63 L306.15 819.73 L306.97 819.83 L307.8 819.93 L308.62 820.03 L309.44 820.14 L310.27 820.24 L311.09 820.34 L311.92 820.45 L312.74 820.56 L313.57 820.67 L314.39 820.78 L315.21 820.89 L316.04 821 L316.86 821.11 L317.69 821.23 L318.51 821.34 L319.33 821.46 L320.16 821.57 L320.98 821.69 L321.81 821.81 L322.63 821.93 L323.46 822.06 L324.28 822.18 L325.1 822.3 L325.93 822.43 L326.75 822.56 L327.58 822.68 L328.4 822.81 L329.22 822.94 L330.05 823.08 L330.87 823.21 L331.7 823.34 L332.52 823.48 L333.35 823.62 L334.17 823.75 L334.99 823.89 L335.82 824.03 L336.64 824.18 L337.47 824.32 L338.29 824.46 L339.11 824.61 L339.94 824.75 L340.76 824.9 L341.59 825.05 L342.41 825.2 L343.24 825.36 L344.06 825.51 L344.88 825.66 L345.71 825.82 L346.53 825.98 L347.36 826.14 L348.18 826.3 L349 826.46 L349.83 826.62 L350.65 826.78 L351.48 826.95 L352.3 827.12 L353.13 827.28 L353.95 827.45 L354.77 827.63 L355.6 827.8 L356.42 827.97 L357.25 828.15 L358.07 828.32 L358.89 828.5 L359.72 828.68 L360.54 828.86 L361.37 829.05 L362.19 829.23 L363.02 829.41 L363.84 829.6 L364.66 829.79 L365.49 829.98 L366.31 830.17 L367.14 830.36 L367.96 830.56 L368.79 830.75 L369.61 830.95 L370.43 831.15 L371.26 831.35 L372.08 831.55 L372.91 831.75 L373.73 831.96 L374.55 832.17 L375.38 832.37 L376.2 832.58 L377.03 832.79 L377.85 833.01 L378.68 833.22 L379.5 833.44 L380.32 833.65 L381.15 833.87 L381.97 834.09 L382.8 834.31 L383.62 834.54 L384.44 834.76 L385.27 834.99 L386.09 835.22 L386.92 835.45 L387.74 835.68 L388.57 835.91 L389.39 836.15 L390.21 836.39 L391.04 836.62 L391.86 836.86 L392.69 837.1 L393.51 837.35 L394.33 837.59 L395.16 837.84 L395.98 838.09 L396.81 838.34 L397.63 838.59 L398.46 838.84 L399.28 839.1 L400.1 839.36 L400.93 839.61 L401.75 839.87 L402.58 840.14 L403.4 840.4 L404.22 840.67 L405.05 840.93 L405.87 841.2 L406.7 841.47 L407.52 841.74 L408.35 842.02 L409.17 842.3 L409.99 842.57 L410.82 842.85 L411.64 843.13 L412.47 843.42 L413.29 843.7 L414.11 843.99 L414.94 844.28 L415.76 844.57 L416.59 844.86 L417.41 845.16 L418.24 845.45 L419.06 845.75 L419.88 846.05 L420.71 846.35 L421.53 846.65 L422.36 846.96 L423.18 847.27 L424.01 847.58 L424.83 847.89 L425.65 848.2 L426.48 848.52 L427.3 848.83 L428.13 849.15 L428.95 849.47 L429.77 849.79 L430.6 850.12 L431.42 850.44 L432.25 850.77 L433.07 851.1 L433.9 851.43 L434.72 851.76 L435.54 852.1 L436.37 852.43 L437.19 852.77 L438.02 853.11 L438.84 853.45 L439.66 853.79 L440.49 854.13 L441.31 854.47 L442.14 854.82 L442.96 855.16 L443.79 855.51 L444.61 855.86 L445.43 856.2 L446.26 856.55 L447.08 856.91 L447.91 857.26 L448.73 857.61 L449.55 857.96 L450.38 858.32 L451.2 858.67 L452.03 859.03 L452.85 859.39 L453.68 859.74 L454.5 860.1 L455.32 860.46 L456.15 860.82 L456.97 861.18 L457.8 861.54 L458.62 861.9 L459.44 862.26 L460.27 862.62 L461.09 862.98 L461.92 863.35 L462.74 863.71 L463.57 864.07 L464.39 864.43 L465.21 864.8 L466.04 865.16 L466.86 865.52 L467.69 865.88 L468.51 866.25 L469.33 866.61 L470.16 866.97 L470.98 867.34 L471.81 867.7 L472.63 868.06 L473.46 868.42 L474.28 868.78 L475.1 869.14 L475.93 869.51 L476.75 869.87 L477.58 870.23 L478.4 870.59 L479.22 870.94 L480.05 871.3 L480.87 871.66 L481.7 872.02 L482.52 872.38 L483.35 872.73 L484.17 873.09 L484.99 873.44 L485.82 873.79 L486.64 874.15 L487.47 874.5 L488.29 874.85 L489.12 875.2 L489.94 875.55 L490.76 875.9 L491.59 876.24 L492.41 876.59 L493.24 876.93 L494.06 877.27 L494.88 877.62 L495.71 877.96 L496.53 878.3 L497.36 878.63 L498.18 878.97 L499.01 879.31 L499.83 879.64 L500.65 879.97 L501.48 880.3 L502.3 880.62 L503.13 880.95 L503.95 881.27 L504.77 881.59 L505.6 881.9 L506.42 882.21 L507.25 882.52 L508.07 882.82 L508.9 883.12 L509.72 883.42 L510.54 883.71 L511.37 884 L512.19 884.28 L513.02 884.55 L513.84 884.82 L514.66 885.09 L515.49 885.35 L516.31 885.6 L517.14 885.85 L517.96 886.09 L518.79 886.33 L519.61 886.56 L520.43 886.78 L521.26 886.99 L522.08 887.2 L522.91 887.4 L523.73 887.59 L524.55 887.77 L525.38 887.95 L526.2 888.12 L527.03 888.27 L527.85 888.42 L528.68 888.57 L529.5 888.7 L530.32 888.82 L531.15 888.93 L531.97 889.04 L532.8 889.13 L533.62 889.21 L534.44 889.28 L535.27 889.35 L536.09 889.4 L536.92 889.44 L537.74 889.47 L538.57 889.49 L539.39 889.49 L540.21 889.49 L541.04 889.47 L541.86 889.44 L542.69 889.4 L543.51 889.34 L544.33 889.27 L545.16 889.19 L545.98 889.1 L546.81 888.99 L547.63 888.87 L548.46 888.73 L549.28 888.58 L550.1 888.42 L550.93 888.24 L551.75 888.05 L552.58 887.84 L553.4 887.62 L554.23 887.38 L555.05 887.13 L555.87 886.86 L556.7 886.58 L557.52 886.28 L558.35 885.96 L559.17 885.63 L559.99 885.28 L560.82 884.91 L561.64 884.53 L562.47 884.13 L563.29 883.72 L564.12 883.29 L564.94 882.84 L565.76 882.38 L566.59 881.89 L567.41 881.4 L568.24 880.88 L569.06 880.34 L569.88 879.79 L570.71 879.22 L571.53 878.64 L572.36 878.03 L573.18 877.41 L574.01 876.77 L574.83 876.11 L575.65 875.43 L576.48 874.73 L577.3 874.02 L578.13 873.28 L578.95 872.53 L579.77 871.76 L580.6 870.97 L581.42 870.16 L582.25 869.33 L583.07 868.48 L583.9 867.61 L584.72 866.72 L585.54 865.81 L586.37 864.88 L587.19 863.93 L588.02 862.97 L588.84 861.98 L589.66 860.97 L590.49 859.94 L591.31 858.89 L592.14 857.82 L592.96 856.72 L593.79 855.61 L594.61 854.48 L595.43 853.32 L596.26 852.14 L597.08 850.95 L597.91 849.73 L598.73 848.49 L599.55 847.22 L600.38 845.94 L601.2 844.63 L602.03 843.3 L602.85 841.94 L603.68 840.56 L604.5 839.15 L605.32 837.71 L606.15 836.24 L606.97 834.74 L607.8 833.2 L608.62 831.63 L609.44 830.02 L610.27 828.37 L611.09 826.68 L611.92 824.95 L612.74 823.18 L613.57 821.36 L614.39 819.49 L615.21 817.58 L616.04 815.61 L616.86 813.61 L617.69 811.56 L618.51 809.47 L619.34 807.35 L620.16 805.19 L620.98 803.01 L621.81 800.79 L622.63 798.56 L623.46 796.3 L624.28 794.02 L625.1 791.72 L625.93 789.41 L626.75 787.09 L627.58 784.77 L628.4 782.44 L629.23 780.1 L630.05 777.77 L630.87 775.44 L631.7 773.12 L632.52 770.8 L633.35 768.49 L634.17 766.18 L634.99 763.87 L635.82 761.55 L636.64 759.23 L637.47 756.89 L638.29 754.54 L639.12 752.17 L639.94 749.78 L640.76 747.36 L641.59 744.92 L642.41 742.45 L643.24 739.94 L644.06 737.4 L644.88 734.82 L645.71 732.19 L646.53 729.52 L647.36 726.8 L648.18 724.03 L649.01 721.2 L649.83 718.32 L650.65 715.37 L651.48 712.36 L652.3 709.28 L653.13 706.12 L653.95 702.9 L654.77 699.6 L655.6 696.21 L656.42 692.75 L657.25 689.19 L658.07 685.55 L658.9 681.82 L659.72 677.99 L660.54 674.06 L661.37 670.05 L662.19 665.96 L663.02 661.81 L663.84 657.6 L664.66 653.34 L665.49 649.04 L666.31 644.7 L667.14 640.35 L667.96 635.99 L668.79 631.62 L669.61 627.25 L670.43 622.91 L671.26 618.58 L672.08 614.29 L672.91 610.02 L673.73 605.69 L674.55 601.17 L675.38 596.36 L676.2 591.15 L677.03 585.42 L677.85 579.06 L678.68 571.96 L679.5 564" stroke="#3462ea" stroke-width="2.6" fill="none"/>
<path d="M122.3 789.3V834.5M116.2 789.3h12.2M116.2 834.5h12.2" stroke="#f04444" stroke-width="1.9" fill="none"/>
<path d="M149 796V842M142.9 796h12.2M142.9 842h12.2" stroke="#f04444" stroke-width="1.9" fill="none"/>
<path d="M188.3 784.5V828.4M182.2 784.5h12.2M182.2 828.4h12.2" stroke="#f04444" stroke-width="1.9" fill="none"/>
<path d="M205.5 798.5V843.9M199.4 798.5h12.2M199.4 843.9h12.2" stroke="#f04444" stroke-width="1.9" fill="none"/>
<path d="M236 792.3V837M229.9 792.3h12.2M229.9 837h12.2" stroke="#f04444" stroke-width="1.9" fill="none"/>
<path d="M266.1 801V846.4M260 801h12.2M260 846.4h12.2" stroke="#f04444" stroke-width="1.9" fill="none"/>
<path d="M297.7 801V845.1M291.6 801h12.2M291.6 845.1h12.2" stroke="#f04444" stroke-width="1.9" fill="none"/>
<path d="M328.2 801V843.9M322.1 801h12.2M322.1 843.9h12.2" stroke="#f04444" stroke-width="1.9" fill="none"/>
<path d="M356.7 790.3V832M350.6 790.3h12.2M350.6 832h12.2" stroke="#f04444" stroke-width="1.9" fill="none"/>
<path d="M376.1 779.9V823.3M370 779.9h12.2M370 823.3h12.2" stroke="#f04444" stroke-width="1.9" fill="none"/>
<path d="M396.5 757.7V797.7M390.4 757.7h12.2M390.4 797.7h12.2" stroke="#f04444" stroke-width="1.9" fill="none"/>
<path d="M415.7 750.4V796M409.6 750.4h12.2M409.6 796h12.2" stroke="#f04444" stroke-width="1.9" fill="none"/>
<path d="M432.8 728.4V772.4M426.7 728.4h12.2M426.7 772.4h12.2" stroke="#f04444" stroke-width="1.9" fill="none"/>
<path d="M448.9 708.6V753.3M442.8 708.6h12.2M442.8 753.3h12.2" stroke="#f04444" stroke-width="1.9" fill="none"/>
<path d="M466.5 681.1V727.3M460.4 681.1h12.2M460.4 727.3h12.2" stroke="#f04444" stroke-width="1.9" fill="none"/>
<path d="M483 618.3V663.5M476.9 618.3h12.2M476.9 663.5h12.2" stroke="#f04444" stroke-width="1.9" fill="none"/>
<circle cx="122.3" cy="809.2" r="7.65" fill="#fa3c3f" stroke="#5e0606" stroke-width="2.0"/>
<circle cx="149" cy="817.6" r="7.65" fill="#fa3c3f" stroke="#5e0606" stroke-width="2.0"/>
<circle cx="188.3" cy="804.2" r="7.65" fill="#fa3c3f" stroke="#5e0606" stroke-width="2.0"/>
<circle cx="205.5" cy="816.6" r="7.65" fill="#fa3c3f" stroke="#5e0606" stroke-width="2.0"/>
<circle cx="236" cy="811.4" r="7.65" fill="#fa3c3f" stroke="#5e0606" stroke-width="2.0"/>
<circle cx="266.1" cy="820.8" r="7.65" fill="#fa3c3f" stroke="#5e0606" stroke-width="2.0"/>
<circle cx="297.7" cy="818.8" r="7.65" fill="#fa3c3f" stroke="#5e0606" stroke-width="2.0"/>
<circle cx="328.2" cy="819.6" r="7.65" fill="#fa3c3f" stroke="#5e0606" stroke-width="2.0"/>
<circle cx="356.7" cy="810.9" r="7.65" fill="#fa3c3f" stroke="#5e0606" stroke-width="2.0"/>
<circle cx="376.1" cy="800.2" r="7.65" fill="#fa3c3f" stroke="#5e0606" stroke-width="2.0"/>
<circle cx="396.5" cy="777.9" r="7.65" fill="#fa3c3f" stroke="#5e0606" stroke-width="2.0"/>
<circle cx="415.7" cy="770.9" r="7.65" fill="#fa3c3f" stroke="#5e0606" stroke-width="2.0"/>
<circle cx="432.8" cy="748.2" r="7.65" fill="#fa3c3f" stroke="#5e0606" stroke-width="2.0"/>
<circle cx="448.9" cy="728.4" r="7.65" fill="#fa3c3f" stroke="#5e0606" stroke-width="2.0"/>
<circle cx="466.5" cy="702" r="7.65" fill="#fa3c3f" stroke="#5e0606" stroke-width="2.0"/>
<circle cx="483" cy="638.8" r="7.65" fill="#fa3c3f" stroke="#5e0606" stroke-width="2.0"/>
<path d="M122.8 799.2V845.1M116.7 799.2h12.2M116.7 845.1h12.2" stroke="#4574ee" stroke-width="1.9" fill="none"/>
<path d="M148.7 797.2V842.8M142.6 797.2h12.2M142.6 842.8h12.2" stroke="#4574ee" stroke-width="1.9" fill="none"/>
<path d="M177 801.5V846.4M170.9 801.5h12.2M170.9 846.4h12.2" stroke="#4574ee" stroke-width="1.9" fill="none"/>
<path d="M206.7 806.7V852.3M200.6 806.7h12.2M200.6 852.3h12.2" stroke="#4574ee" stroke-width="1.9" fill="none"/>
<path d="M237 801.7V846.4M230.9 801.7h12.2M230.9 846.4h12.2" stroke="#4574ee" stroke-width="1.9" fill="none"/>
<path d="M267.9 797.2V841.4M261.8 797.2h12.2M261.8 841.4h12.2" stroke="#4574ee" stroke-width="1.9" fill="none"/>
<path d="M298.4 809.6V854.3M292.3 809.6h12.2M292.3 854.3h12.2" stroke="#4574ee" stroke-width="1.9" fill="none"/>
<path d="M326.4 810.9V854.3M320.3 810.9h12.2M320.3 854.3h12.2" stroke="#4574ee" stroke-width="1.9" fill="none"/>
<path d="M352.5 812.6V856.8M346.4 812.6h12.2M346.4 856.8h12.2" stroke="#4574ee" stroke-width="1.9" fill="none"/>
<path d="M371.6 810.9V855.6M365.5 810.9h12.2M365.5 855.6h12.2" stroke="#4574ee" stroke-width="1.9" fill="none"/>
<path d="M398.9 824V868.7M392.8 824h12.2M392.8 868.7h12.2" stroke="#4574ee" stroke-width="1.9" fill="none"/>
<path d="M436.6 829.1V874.4M430.5 829.1h12.2M430.5 874.4h12.2" stroke="#4574ee" stroke-width="1.9" fill="none"/>
<path d="M471.5 840.3V886.1M465.4 840.3h12.2M465.4 886.1h12.2" stroke="#4574ee" stroke-width="1.9" fill="none"/>
<path d="M506.1 857.8V903.5M500 857.8h12.2M500 903.5h12.2" stroke="#4574ee" stroke-width="1.9" fill="none"/>
<path d="M538.5 868.6V913.1M532.4 868.6h12.2M532.4 913.1h12.2" stroke="#4574ee" stroke-width="1.9" fill="none"/>
<path d="M600.9 799.6V844.5M594.8 799.6h12.2M594.8 844.5h12.2" stroke="#4574ee" stroke-width="1.9" fill="none"/>
<path d="M630.8 697.8V743M624.7 697.8h12.2M624.7 743h12.2" stroke="#4574ee" stroke-width="1.9" fill="none"/>
<path d="M655.6 629.8V675.6M649.5 629.8h12.2M649.5 675.6h12.2" stroke="#4574ee" stroke-width="1.9" fill="none"/>
<path d="M673.4 572V616.6M667.3 572h12.2M667.3 616.6h12.2" stroke="#4574ee" stroke-width="1.9" fill="none"/>
<rect x="115.75" y="812.55" width="14.1" height="14.1" fill="#4470f8" stroke="#000e96" stroke-width="2.1"/>
<rect x="141.65" y="810.55" width="14.1" height="14.1" fill="#4470f8" stroke="#000e96" stroke-width="2.1"/>
<rect x="169.95" y="815.25" width="14.1" height="14.1" fill="#4470f8" stroke="#000e96" stroke-width="2.1"/>
<rect x="199.65" y="819.95" width="14.1" height="14.1" fill="#4470f8" stroke="#000e96" stroke-width="2.1"/>
<rect x="229.95" y="814.95" width="14.1" height="14.1" fill="#4470f8" stroke="#000e96" stroke-width="2.1"/>
<rect x="260.85" y="810.55" width="14.1" height="14.1" fill="#4470f8" stroke="#000e96" stroke-width="2.1"/>
<rect x="291.35" y="822.45" width="14.1" height="14.1" fill="#4470f8" stroke="#000e96" stroke-width="2.1"/>
<rect x="319.35" y="823.65" width="14.1" height="14.1" fill="#4470f8" stroke="#000e96" stroke-width="2.1"/>
<rect x="345.45" y="826.15" width="14.1" height="14.1" fill="#4470f8" stroke="#000e96" stroke-width="2.1"/>
<rect x="364.55" y="824.15" width="14.1" height="14.1" fill="#4470f8" stroke="#000e96" stroke-width="2.1"/>
<rect x="391.85" y="837.35" width="14.1" height="14.1" fill="#4470f8" stroke="#000e96" stroke-width="2.1"/>
<rect x="429.55" y="842.45" width="14.1" height="14.1" fill="#4470f8" stroke="#000e96" stroke-width="2.1"/>
<rect x="464.45" y="854.05" width="14.1" height="14.1" fill="#4470f8" stroke="#000e96" stroke-width="2.1"/>
<rect x="499.05" y="871.95" width="14.1" height="14.1" fill="#4470f8" stroke="#000e96" stroke-width="2.1"/>
<rect x="531.45" y="881.95" width="14.1" height="14.1" fill="#4470f8" stroke="#000e96" stroke-width="2.1"/>
<rect x="593.85" y="813.25" width="14.1" height="14.1" fill="#4470f8" stroke="#000e96" stroke-width="2.1"/>
<rect x="623.75" y="711.15" width="14.1" height="14.1" fill="#4470f8" stroke="#000e96" stroke-width="2.1"/>
<rect x="648.55" y="643.25" width="14.1" height="14.1" fill="#4470f8" stroke="#000e96" stroke-width="2.1"/>
<rect x="666.35" y="584.95" width="14.1" height="14.1" fill="#4470f8" stroke="#000e96" stroke-width="2.1"/>
</g>
<text x="80.2" y="577.5" class="tl">7</text>
<text x="80.2" y="600.2" class="tl">6</text>
<text x="80.2" y="621.3" class="tl">5</text>
<text x="80.2" y="647.2" class="tl">4</text>
<text x="80.2" y="684.35" class="tl">3</text>
<text x="80.2" y="732.8" class="tl">2</text>
<path d="M87.6 817.9V800.7" stroke="#000" stroke-width="2.2" fill="none"/><path d="M87.8 801.4Q85.6 805 82.2 805.1" stroke="#000" stroke-width="2" fill="none"/>
<text x="59.35" y="849.2" class="tl">0</text><text x="73.25" y="849.2" class="tl">.</text><text x="80.2" y="849.2" class="tl">8</text>
<text x="59.35" y="881.8" class="tl">0</text><text x="73.25" y="881.8" class="tl">.</text><text x="80.2" y="881.8" class="tl">6</text>
<text x="59.35" y="906.8" class="tl">0</text><text x="73.25" y="906.8" class="tl">.</text><text x="80.2" y="906.8" class="tl">5</text>
<text x="59.35" y="935.1" class="tl">0</text><text x="73.25" y="935.1" class="tl">.</text><text x="80.2" y="935.1" class="tl">4</text>
<text x="59.35" y="970.4" class="tl">0</text><text x="73.25" y="970.4" class="tl">.</text><text x="80.2" y="970.4" class="tl">3</text>
<text x="59.35" y="1018.5" class="tl">0</text><text x="73.25" y="1018.5" class="tl">.</text><text x="80.2" y="1018.5" class="tl">2</text>
<text x="83.2" y="1040.8" class="tl">0</text><text x="97.1" y="1040.8" class="tl">.</text><text x="104.05" y="1040.8" class="tl">0</text><path d="M125.85 1040.8V1023.6" stroke="#000" stroke-width="2.2" fill="none"/><path d="M126.05 1024.3Q123.85 1027.9 120.45 1028" stroke="#000" stroke-width="2" fill="none"/>
<text x="247.8" y="1040.8" class="tl">0</text><text x="261.7" y="1040.8" class="tl">.</text><path d="M276.55 1040.8V1023.6" stroke="#000" stroke-width="2.2" fill="none"/><path d="M276.75 1024.3Q274.55 1027.9 271.15 1028" stroke="#000" stroke-width="2" fill="none"/>
<path d="M425.7 1040.8V1023.6" stroke="#000" stroke-width="2.2" fill="none"/><path d="M425.9 1024.3Q423.7 1027.9 420.3 1028" stroke="#000" stroke-width="2" fill="none"/>
<path d="M579.1 1040.8V1023.6" stroke="#000" stroke-width="2.2" fill="none"/><path d="M579.3 1024.3Q577.1 1027.9 573.7 1028" stroke="#000" stroke-width="2" fill="none"/><text x="585.1" y="1040.8" class="tl">0</text>
<text x="8.2" y="30.4" class="pl">a</text>
<text x="7.0" y="581" class="pl">b</text>
<text x="333.9" y="526.7" class="ti" font-style="italic">P</text>
<text x="351.5" y="534.7" class="ti" style="font-size:20px">ex</text>
<text x="380.9" y="526.7" class="ti">(μW)</text>
<text x="338.9" y="1076.3" class="ti" font-style="italic">P</text>
<text x="356.5" y="1084.5" class="ti" style="font-size:20px">ex</text>
<text x="385.7" y="1076.3" class="ti">(μW)</text>
<g transform="translate(24.9,278.84) rotate(-90)"><text x="0" y="0" font-family="Liberation Serif" font-size="29">Γ</text><text x="17.6" y="0" font-family="Liberation Serif" font-size="29">/</text><text x="26.0" y="0" font-family="Liberation Serif" font-size="29">Γ</text><text x="42.2" y="8.5" class="ys" font-size="20">eff</text></g>
<g transform="translate(26.1,829.1) rotate(-90)"><text x="0" y="0" class="ys" font-size="29" font-style="italic">T</text><text x="14.9" y="8.5" class="ys" font-size="20.5">eff</text><text x="42.25" y="0" class="ys" font-size="29" font-style="italic">/</text><text x="54.1" y="0" class="ys" font-size="29" font-style="italic">T</text></g>
</svg>
</body></html>
